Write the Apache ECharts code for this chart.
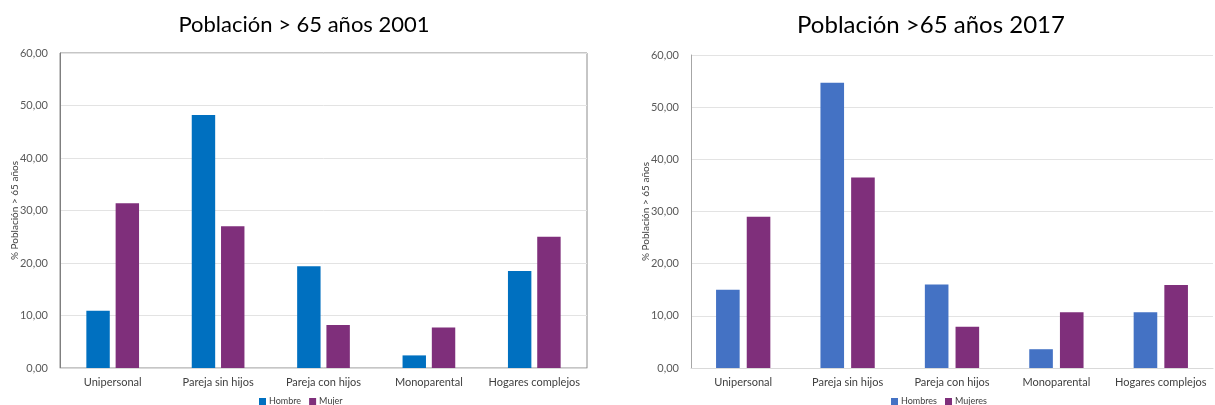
<!DOCTYPE html>
<html>
<head>
<meta charset="utf-8">
<script src="https://cdn.jsdelivr.net/npm/echarts@6/dist/echarts.min.js"></script>
<style>
  html, body { margin: 0; padding: 0; background: #fff; }
  #main { width: 1215px; height: 405px; }
</style>
</head>
<body>
<div id="main"></div>
<script>
var categories = ['Unipersonal', 'Pareja sin hijos', 'Pareja con hijos', 'Monoparental', 'Hogares complejos'];
var hombre2001 = [10.9, 48.2, 19.4, 2.4, 18.5];
var mujer2001 = [31.4, 27.0, 8.2, 7.7, 25.0];
var hombres2017 = [15.0, 54.7, 16.0, 3.6, 10.7];
var mujeres2017 = [29.0, 36.5, 7.9, 10.7, 15.9];
var yTicks = ['0,00', '10,00', '20,00', '30,00', '40,00', '50,00', '60,00'];

var font = 'Lato, "Open Sans", sans-serif';
var dom = document.getElementById('main');
var myChart = echarts.init(dom, null, { renderer: 'canvas' });

function yAxisOpt(idx, lineColor) {
	return {
		type: 'value',
		gridIndex: idx,
		min: 0,
		max: 60,
		interval: 10,
		name: '% Población > 65 años',
		nameLocation: 'middle',
		nameGap: 40,
		nameMoveOverlap: false,
		nameTextStyle: { color: '#404040', fontSize: 10, fontFamily: font },
		axisLine: { show: true, lineStyle: { color: lineColor, width: 1 } },
		axisTick: { show: false },
		axisLabel: {
			color: '#595959',
			fontSize: 11,
			fontFamily: font,
			margin: 12,
			formatter: function (v) { return yTicks[Math.round(v / 10)]; }
		},
		splitLine: { show: true, lineStyle: { color: '#e3e3e3', width: 1 } }
	};
}

function xAxisOpt(idx) {
	return {
		type: 'category',
		gridIndex: idx,
		data: categories,
		axisLine: { show: true, lineStyle: { color: '#d9d9d9' } },
		axisTick: { show: false },
		axisLabel: { interval: 0, color: '#404040', fontSize: 11, fontFamily: font, margin: 9 }
	};
}

var option = {
	backgroundColor: '#fff',
	animation: false,
	title: [
		{
			text: 'Población > 65 años 2001',
			left: 299, top: 9, textAlign: 'center',
			textStyle: { fontSize: 22, fontWeight: 'normal', color: '#000', fontFamily: font }
		},
		{
			text: 'Población >65 años 2017',
			left: 926, top: 8, textAlign: 'center',
			textStyle: { fontSize: 24, fontWeight: 'normal', color: '#000', fontFamily: font }
		}
	],
	legend: [
		{
			data: ['Hombre', 'Mujer'],
			left: 254, top: 392,
			icon: 'rect', itemWidth: 7, itemHeight: 7, itemGap: 8,
			textStyle: { fontSize: 9, color: '#404040', fontFamily: font, padding: [0, 0, 0, -2] }
		},
		{
			data: ['Hombres', 'Mujeres'],
			left: 886, top: 392,
			icon: 'rect', itemWidth: 7, itemHeight: 7, itemGap: 8,
			textStyle: { fontSize: 9, color: '#404040', fontFamily: font, padding: [0, 0, 0, -2] }
		}
	],
	grid: [
		{ left: 60, right: 628, top: 53, bottom: 37, show: true, borderColor: '#8c8c8c', borderWidth: 1 },
		{ left: 691, right: 2, top: 55, bottom: 37 }
	],
	xAxis: [xAxisOpt(0), xAxisOpt(1)],
	yAxis: [yAxisOpt(0, '#7f7f7f'), yAxisOpt(1, '#a6a6a6')],
	series: [
		{
			name: 'Hombre', type: 'bar', xAxisIndex: 0, yAxisIndex: 0,
			data: hombre2001, itemStyle: { color: '#0070C0' },
			barGap: '25%', barCategoryGap: '50%'
		},
		{
			name: 'Mujer', type: 'bar', xAxisIndex: 0, yAxisIndex: 0,
			data: mujer2001, itemStyle: { color: '#7F2F7B' },
			barGap: '25%', barCategoryGap: '50%'
		},
		{
			name: 'Hombres', type: 'bar', xAxisIndex: 1, yAxisIndex: 1,
			data: hombres2017, itemStyle: { color: '#4472C4' },
			barGap: '30%', barCategoryGap: '48%'
		},
		{
			name: 'Mujeres', type: 'bar', xAxisIndex: 1, yAxisIndex: 1,
			data: mujeres2017, itemStyle: { color: '#7F2F7B' },
			barGap: '30%', barCategoryGap: '48%'
		}
	]
};

myChart.setOption(option);
</script>
</body>
</html>
